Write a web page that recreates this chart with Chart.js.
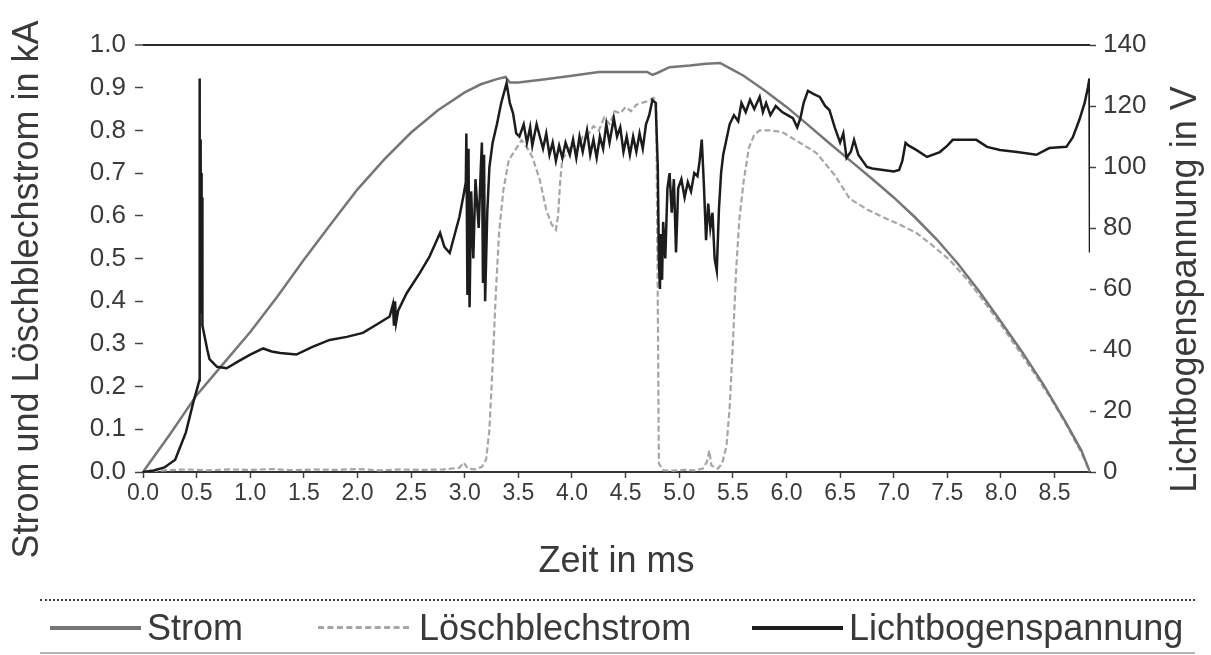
<!DOCTYPE html>
<html lang="de">
<head>
<meta charset="utf-8">
<title>Strom, Löschblechstrom und Lichtbogenspannung</title>
<script src="https://cdn.jsdelivr.net/npm/chart.js@4.4.1/dist/chart.umd.min.js"></script>
<style>
  html, body { margin: 0; padding: 0; background: #fff; }
  #wrap { position: relative; width: 1211px; height: 655px; overflow: hidden; }
  #chart { position: absolute; left: 0; top: 0; }
  .rule { position: absolute; left: 40px; width: 1155px; height: 0; }
  #ruleTop { top: 599px; border-top: 2px dotted #3a3a3a; }
  #ruleBottom { top: 652px; border-top: 2px solid #b5b5b5; }
  .lg-sample { position: absolute; height: 0; width: 91px; }
  .lg-text { position: absolute; top: 607px; font: 36px "Liberation Sans", Arial, sans-serif;
             line-height: 42px; color: #3a3a3a; white-space: nowrap; }
</style>
</head>
<body>
<div id="wrap">
  <canvas id="chart" width="1211" height="655"></canvas>
  <div class="rule" id="ruleTop"></div>
  <div id="legend"></div>
  <div class="rule" id="ruleBottom"></div>
</div>
<script>
// Zeitachse in ms, Ströme in kA, Spannung in V

const stromTime = [0, 0.25, 0.50, 0.72, 1.00, 1.25, 1.50, 1.75, 2.00, 2.25, 2.50, 2.75, 3.00, 3.15, 3.30, 3.38, 3.42, 3.50,
  3.75, 4.00, 4.25, 4.50, 4.70, 4.75, 4.80, 4.91, 5.10, 5.25, 5.38, 5.47, 5.60, 5.80, 6.00, 6.20, 6.40, 6.60, 6.80,
  7.00, 7.20, 7.40, 7.60, 7.80, 8.00, 8.20, 8.40, 8.60, 8.75, 8.83];
const stromValues = [0, 0.088, 0.180, 0.245, 0.328, 0.410, 0.497, 0.580, 0.662, 0.732, 0.795, 0.847, 0.889, 0.908, 0.920, 0.925, 0.912, 0.912,
  0.920, 0.928, 0.937, 0.937, 0.937, 0.930, 0.935, 0.948, 0.952, 0.956, 0.958, 0.946, 0.928, 0.893, 0.855, 0.813, 0.770, 0.728, 0.686,
  0.643, 0.596, 0.545, 0.487, 0.422, 0.352, 0.280, 0.203, 0.118, 0.050, 0];

const loeschTime = [0, 0.20, 0.40, 0.60, 0.80, 1.00, 1.20, 1.40, 1.60, 1.80, 2.00, 2.20, 2.40, 2.60, 2.80, 2.95, 2.99, 3.03, 3.10, 3.16,
  3.20, 3.23, 3.26, 3.29, 3.32, 3.36, 3.41, 3.47, 3.53, 3.58, 3.63, 3.70, 3.76, 3.81, 3.85, 3.87, 3.89, 3.91, 3.95, 4.00,
  4.05, 4.10, 4.15, 4.20, 4.25, 4.30, 4.35, 4.40, 4.45, 4.50, 4.55, 4.60, 4.66, 4.72, 4.76, 4.785, 4.80, 4.81, 4.85, 4.95,
  5.05, 5.15, 5.22, 5.26, 5.28, 5.30, 5.36, 5.40, 5.44, 5.47, 5.50, 5.53, 5.56, 5.60, 5.65, 5.70, 5.75, 5.85, 5.96, 6.10,
  6.28, 6.45, 6.59, 6.75, 6.90, 7.05, 7.21, 7.35, 7.52, 7.68, 7.83, 8.00, 8.15, 8.30, 8.45, 8.60, 8.75, 8.83];
const loeschValues = [0, 0.004, 0.006, 0.004, 0.006, 0.005, 0.007, 0.004, 0.006, 0.005, 0.007, 0.004, 0.006, 0.005, 0.006, 0.010, 0.022, 0.008, 0.006, 0.012,
  0.03, 0.10, 0.25, 0.42, 0.56, 0.66, 0.73, 0.754, 0.777, 0.76, 0.738, 0.684, 0.614, 0.58, 0.567, 0.60, 0.68, 0.735, 0.745, 0.77,
  0.755, 0.785, 0.79, 0.81, 0.80, 0.83, 0.815, 0.845, 0.84, 0.855, 0.845, 0.86, 0.865, 0.87, 0.876, 0.87, 0.40, 0.02, 0.004, 0.003,
  0.005, 0.004, 0.008, 0.025, 0.05, 0.015, 0.008, 0.02, 0.06, 0.15, 0.30, 0.47, 0.59, 0.68, 0.76, 0.79, 0.80, 0.80, 0.796, 0.775,
  0.747, 0.695, 0.640, 0.615, 0.597, 0.58, 0.56, 0.533, 0.497, 0.452, 0.403, 0.345, 0.29, 0.235, 0.178, 0.115, 0.045, 0];

const spannungTime = [0, 0.10, 0.20, 0.30, 0.40, 0.47, 0.51, 0.525, 0.527, 0.530, 0.533, 0.536, 0.539, 0.542, 0.545, 0.548, 0.551, 0.554, 0.560,
  0.60, 0.62, 0.69, 0.78, 0.90, 1.00, 1.12, 1.20, 1.28, 1.43, 1.58, 1.74, 1.90, 2.05, 2.21, 2.30, 2.33, 2.34, 2.35, 2.36, 2.38,
  2.46, 2.58, 2.67, 2.77, 2.81, 2.86, 2.95, 2.99, 3.01, 3.015, 3.025, 3.035, 3.045, 3.06, 3.08, 3.10, 3.13, 3.15, 3.16, 3.17,
  3.18, 3.19, 3.21, 3.23, 3.26, 3.30, 3.34, 3.39, 3.42, 3.45, 3.48, 3.51, 3.55, 3.58, 3.61, 3.63, 3.67, 3.70, 3.73, 3.76,
  3.79, 3.82, 3.85, 3.88, 3.91, 3.94, 3.98, 4.01, 4.04, 4.07, 4.10, 4.14, 4.17, 4.20, 4.23, 4.26, 4.29, 4.32, 4.35, 4.39,
  4.42, 4.45, 4.48, 4.51, 4.54, 4.57, 4.60, 4.63, 4.66, 4.69, 4.72, 4.75, 4.78, 4.80, 4.81, 4.82, 4.83, 4.84, 4.85, 4.87,
  4.89, 4.91, 4.93, 4.95, 4.97, 4.99, 5.02, 5.05, 5.08, 5.11, 5.14, 5.17, 5.19, 5.21, 5.23, 5.25, 5.27, 5.29, 5.31, 5.33,
  5.35, 5.37, 5.39, 5.41, 5.44, 5.47, 5.51, 5.55, 5.58, 5.62, 5.66, 5.70, 5.75, 5.78, 5.81, 5.85, 5.90, 5.96, 6.01, 6.06,
  6.10, 6.13, 6.16, 6.20, 6.25, 6.31, 6.36, 6.40, 6.45, 6.50, 6.53, 6.56, 6.60, 6.63, 6.67, 6.71, 6.75, 6.80, 6.90, 7.00,
  7.05, 7.08, 7.11, 7.14, 7.21, 7.31, 7.43, 7.50, 7.55, 7.77, 7.87, 7.99, 8.15, 8.33, 8.45, 8.61, 8.67, 8.73, 8.78, 8.81,
  8.825, 8.83];
const spannungValues = [0, 0.5, 1.5, 4, 13, 23, 28, 30, 129, 62, 109, 55, 104, 60, 98, 52, 90, 48, 47,
  40, 37, 34.5, 34, 36.5, 38.5, 40.5, 39.5, 39, 38.5, 41, 43.3, 44.3, 45.6, 49, 51, 55, 48, 56, 49, 53,
  58.7, 65.2, 70.5, 78.4, 73.8, 71.8, 83.6, 91, 95, 111, 58, 106, 54, 92, 70, 96, 80, 100, 108, 62,
  104, 56, 85, 100, 108, 114, 121, 127.5, 121, 117.7, 111, 110, 114, 108, 113, 107, 114, 110, 106, 111,
  104, 108, 102, 107, 103, 108, 104, 109, 103, 110, 105, 112, 104, 109, 103, 110, 106, 114, 108, 116,
  110, 113, 105, 110, 104, 110, 105, 111, 106, 114, 117, 122, 121, 100, 70, 60, 78, 63, 82, 70,
  93, 98, 85, 96, 72, 93, 96, 90, 95, 92, 98, 97, 102, 109, 94, 76, 88, 80, 85, 70,
  66, 86, 98, 104, 109, 114, 117, 115, 121, 118, 122, 119, 123, 118, 121, 117, 120, 118, 117, 116,
  113, 116, 121, 125, 124, 123, 120, 118.7, 113, 108, 111, 103, 105, 108.9, 104, 102, 100, 99.5, 99, 98.5,
  99, 102, 107.9, 107, 105.6, 103.3, 104.9, 107, 108.9, 108.9, 106.6, 105.6, 104.9, 104, 106.2, 106.6, 109.8, 115.4, 121, 126,
  129, 72];

const xTicks = [0, 0.5, 1, 1.5, 2, 2.5, 3, 3.5, 4, 4.5, 5, 5.5, 6, 6.5, 7, 7.5, 8, 8.5];
const xTickLabels = ['0.0', '0.5', '1.0', '1.5', '2.0', '2.5', '3.0', '3.5', '4.0', '4.5', '5.0', '5.5', '6.0', '6.5', '7.0', '7.5', '8.0', '8.5'];
const leftTicks = [0, 0.1, 0.2, 0.3, 0.4, 0.5, 0.6, 0.7, 0.8, 0.9, 1.0];
const leftTickLabels = ['0.0', '0.1', '0.2', '0.3', '0.4', '0.5', '0.6', '0.7', '0.8', '0.9', '1.0'];
const rightTicks = [0, 20, 40, 60, 80, 100, 120, 140];
const rightTickLabels = ['0', '20', '40', '60', '80', '100', '120', '140'];

const seriesNames = ['Strom', 'Löschblechstrom', 'Lichtbogenspannung'];
const titleX = 'Zeit in ms';
const titleLeft = 'Strom und Löschblechstrom in kA';
const titleRight = 'Lichtbogenspannung in V';

const FONT = '"Liberation Sans", Arial, sans-serif';
const TEXT = '#3a3a3a';

const pts = (ts, vs) => ts.map((t, i) => ({ x: t, y: vs[i] }));

// Rotated titles of both value axes, read from bottom to top
const valueAxisTitles = {
  id: 'valueAxisTitles',
  afterDraw(chart) {
    const { ctx, chartArea } = chart;
    const cy = (chartArea.top + chartArea.bottom) / 2 + 31;
    const items = [
      [chart.options.scales.y.title.text, chartArea.left - 115],
      [chart.options.scales.yRight.title.text, chartArea.right + 96]
    ];
    ctx.save();
    ctx.font = '36px ' + FONT;
    ctx.fillStyle = TEXT;
    ctx.textAlign = 'center';
    ctx.textBaseline = 'middle';
    items.forEach(([text, x]) => {
      ctx.save();
      ctx.translate(x, cy);
      ctx.rotate(-Math.PI / 2);
      ctx.fillText(text, 0, 0);
      ctx.restore();
    });
    ctx.restore();
  }
};

const chart = new Chart(document.getElementById('chart'), {
  type: 'line',
  data: {
    datasets: [
      { label: seriesNames[0], data: pts(stromTime, stromValues), yAxisID: 'y',
        borderColor: '#767676', borderWidth: 2.5, order: 1 },
      { label: seriesNames[1], data: pts(loeschTime, loeschValues), yAxisID: 'y',
        borderColor: '#a6a6a6', borderWidth: 2.2, borderDash: [6, 3], order: 2 },
      { label: seriesNames[2], data: pts(spannungTime, spannungValues), yAxisID: 'yRight',
        borderColor: '#1c1c1c', borderWidth: 2.5, order: 0 }
    ]
  },
  options: {
    responsive: false,
    animation: false,
    devicePixelRatio: 1,
    parsing: true,
    elements: { point: { radius: 0 }, line: { tension: 0, fill: false } },
    layout: { padding: { top: 45, bottom: 55, left: 0, right: 0 } },
    plugins: { legend: { display: false }, tooltip: { enabled: false } },
    scales: {
      x: {
        type: 'linear', min: 0, max: 8.83,
        afterFit(s) { s.height = 128; },
        afterBuildTicks(s) { s.ticks = xTicks.map(v => ({ value: v })); },
        ticks: { callback: (v, i) => xTickLabels[i], font: { size: 23, family: FONT }, color: TEXT,
                 padding: 2, maxRotation: 0, autoSkip: false },
        grid: { drawOnChartArea: false, tickLength: 6, tickColor: '#444', tickWidth: 1.5 },
        border: { display: true, color: '#333', width: 2 },
        title: { display: true, text: titleX, font: { size: 36, family: FONT }, color: TEXT,
                 padding: { top: 0, bottom: 16 } }
      },
      y: {
        type: 'linear', position: 'left', min: 0, max: 1,
        afterFit(s) { s.width = 143; },
        afterBuildTicks(s) { s.ticks = leftTicks.map(v => ({ value: v })); },
        ticks: { callback: (v, i) => leftTickLabels[i], font: { size: 26, family: FONT }, color: TEXT, padding: 9 },
        grid: {
          color: c => (c.tick && c.tick.value === 1 ? '#2a2a2a' : 'rgba(0,0,0,0)'),
          lineWidth: c => (c.tick && c.tick.value === 1 ? 2 : 1),
          tickColor: '#444', tickLength: 8, tickWidth: 1.5
        },
        border: { display: false },
        title: { display: false, text: titleLeft }
      },
      yRight: {
        type: 'linear', position: 'right', min: 0, max: 140,
        afterFit(s) { s.width = 121; },
        afterBuildTicks(s) { s.ticks = rightTicks.map(v => ({ value: v })); },
        ticks: { callback: (v, i) => rightTickLabels[i], font: { size: 26, family: FONT }, color: TEXT, padding: 7 },
        grid: { drawOnChartArea: false, tickColor: '#444', tickLength: 6, tickWidth: 1.5 },
        border: { display: false },
        title: { display: false, text: titleRight }
      }
    }
  },
  plugins: [valueAxisTitles]
});

// Legend row below the chart, built from the datasets
const legendPlaces = [[50, 147], [318, 419], [752, 849]];
const legendStroke = ['4px solid', '3px dashed', '4px solid'];
const legendBox = document.getElementById('legend');
chart.data.datasets.forEach((ds, i) => {
  const sample = document.createElement('div');
  sample.className = 'lg-sample';
  sample.style.left = legendPlaces[i][0] + 'px';
  sample.style.top = '626px';
  sample.style.borderTop = legendStroke[i] + ' ' + ds.borderColor;
  legendBox.appendChild(sample);
  const label = document.createElement('div');
  label.className = 'lg-text';
  label.style.left = legendPlaces[i][1] + 'px';
  label.textContent = ds.label;
  legendBox.appendChild(label);
});
</script>
</body>
</html>
